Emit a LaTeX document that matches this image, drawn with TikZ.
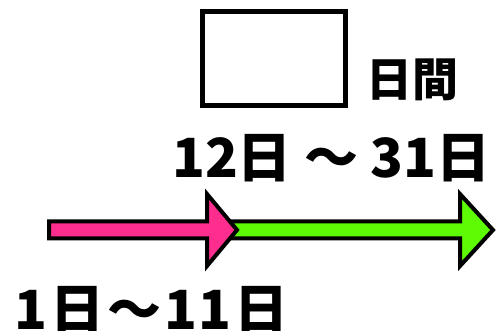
\documentclass[tikz,border=0pt]{standalone}
\usepackage{fontspec}
\newfontfamily\cjk{Noto Sans CJK JP}[BoldFont={Noto Sans CJK JP Black}]
\definecolor{pinkfill}{HTML}{FF2D8E}
\definecolor{greenfill}{HTML}{5DFB04}
\tikzset{
  arrowshape/.style={draw=black, line width=4pt, line join=miter, miter limit=10},
  bigtext/.style={font=\cjk\bfseries\fontsize{54}{54}\selectfont, inner sep=0pt, anchor=base west},
  midtext/.style={font=\cjk\bfseries\fontsize{46}{46}\selectfont, inner sep=0pt, anchor=base west},
  blankbox/.style={draw=black, line width=5pt, minimum width=143pt, minimum height=94pt, inner sep=0pt}
}
\begin{document}
\begin{tikzpicture}[x=1pt,y=-1pt]
\useasboundingbox (0,0) rectangle (504,331);
% green arrow
\draw[arrowshape, fill=greenfill] (232,221.5) -- (460,221.5) -- (460,194) -- (493,230) -- (460,266) -- (460,238.5) -- (232,238.5) -- cycle;
% pink arrow
\draw[arrowshape, fill=pinkfill] (49,221.5) -- (207,221.5) -- (207,194) -- (237,230) -- (207,266) -- (207,238.5) -- (49,238.5) -- cycle;
\node[blankbox] (box) at (274,58.5) {};
\node[midtext] (days) at (366,97) {日間};
\node[bigtext] (top) at (172,178) {12日 ～ 31日};
\node[bigtext] (bottom) at (14,330) {1\hspace{3pt}日\hspace{3pt}～\hspace{3pt}1\hspace{2pt}1\hspace{3pt}日};
\end{tikzpicture}
\end{document}
